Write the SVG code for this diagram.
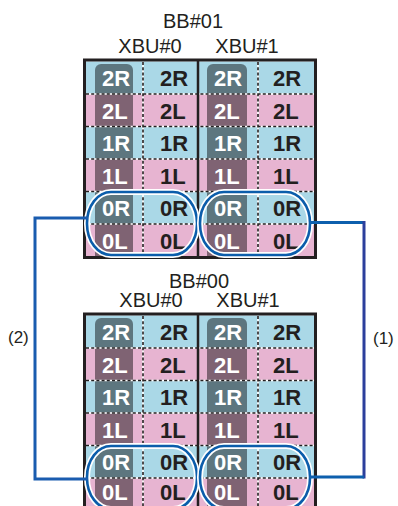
<svg xmlns="http://www.w3.org/2000/svg" width="398" height="506" viewBox="0 0 398 506">
<style>
.b{fill:#aad8e7}.p{fill:#e7b4d1}
.dk{fill:#000;fill-opacity:.45}
.hd{stroke:#231f20;stroke-width:1.6;stroke-dasharray:3 2.2;fill:none}
.hw{stroke:#fff;stroke-width:1.6;fill:none}
.box{fill:none;stroke:#231f20;stroke-width:3}
.mid{stroke:#231f20;stroke-width:2.5}
.t{font-family:"Liberation Sans",Arial,sans-serif;font-size:20px;fill:#231f20;text-anchor:middle}
.w{font-family:"Liberation Sans",Arial,sans-serif;font-size:22px;font-weight:bold;fill:#fff}
.k{font-family:"Liberation Sans",Arial,sans-serif;font-size:22px;font-weight:bold;fill:#231f20}
.ow{fill:none;stroke:#fff;stroke-width:6}
.ob{fill:none;stroke:#0b5dab;stroke-width:2.6}
.c{fill:none;stroke:#0d5fad;stroke-width:3}
.cl{fill:none;stroke:#1a5caf;stroke-width:3}
.cv{fill:none;stroke:#2c3f9c;stroke-width:3}
.lb{font-family:"Liberation Sans",Arial,sans-serif;font-size:17px;fill:#231f20}
</style>

<g id="bb01">
  <text class="t" x="193" y="28">BB#01</text>
  <g id="bb01-xbu0">
    <text class="t" x="150" y="53">XBU#0</text>
    <rect class="b" x="84" y="61.5" width="114" height="32.5"/>
    <rect class="p" x="84" y="94" width="114" height="32.5"/>
    <rect class="b" x="84" y="126.5" width="114" height="32.5"/>
    <rect class="p" x="84" y="159" width="114" height="32.5"/>
    <rect class="b" x="84" y="191.5" width="114" height="32.5"/>
    <rect class="p" x="84" y="224" width="114" height="33"/>
    <path class="dk" d="M95 257V70a6 6 0 0 1 6-6H127a6 6 0 0 1 6 6V257Z"/>
  </g>
  <g id="bb01-xbu1">
    <text class="t" x="247" y="53">XBU#1</text>
    <rect class="b" x="198" y="61.5" width="118" height="32.5"/>
    <rect class="p" x="198" y="94" width="118" height="32.5"/>
    <rect class="b" x="198" y="126.5" width="118" height="32.5"/>
    <rect class="p" x="198" y="159" width="118" height="32.5"/>
    <rect class="b" x="198" y="191.5" width="118" height="32.5"/>
    <rect class="p" x="198" y="224" width="118" height="33"/>
    <path class="dk" d="M207 257V70a6 6 0 0 1 6-6H241a6 6 0 0 1 6 6V257Z"/>
  </g>
  <g id="bb01-lines">
    <path class="hw" d="M86 94H314M86 126.5H314M86 159H314M86 191.5H314M86 224H314M143 62V256M258 62V256"/>
    <path class="hd" d="M86 94H314M86 126.5H314M86 159H314M86 191.5H314M86 224H314M143 62V256M258 62V256"/>
  </g>
  <g id="bb01-text">
    <text class="w" x="102" y="86.25">2R</text><text class="k" x="160" y="86.25">2R</text>
    <text class="w" x="214" y="86.25">2R</text><text class="k" x="273" y="86.25">2R</text>
    <text class="w" x="102" y="118.75">2L</text><text class="k" x="160" y="118.75">2L</text>
    <text class="w" x="214" y="118.75">2L</text><text class="k" x="273" y="118.75">2L</text>
    <text class="w" x="102" y="151.25">1R</text><text class="k" x="160" y="151.25">1R</text>
    <text class="w" x="214" y="151.25">1R</text><text class="k" x="273" y="151.25">1R</text>
    <text class="w" x="102" y="183.75">1L</text><text class="k" x="160" y="183.75">1L</text>
    <text class="w" x="214" y="183.75">1L</text><text class="k" x="273" y="183.75">1L</text>
    <text class="w" x="102" y="216.25">0R</text><text class="k" x="160" y="216.25">0R</text>
    <text class="w" x="214" y="216.25">0R</text><text class="k" x="273" y="216.25">0R</text>
    <text class="w" x="102" y="248.75">0L</text><text class="k" x="160" y="248.75">0L</text>
    <text class="w" x="214" y="248.75">0L</text><text class="k" x="273" y="248.75">0L</text>
  </g>
  <rect class="box" x="84.5" y="60" width="231" height="197.5"/>
  <line class="mid" x1="198" y1="60" x2="198" y2="257.5"/>
  <g id="bb01-ring0"><rect class="ow" x="87" y="192" width="110" height="63" rx="24" ry="31"/><rect class="ob" x="87" y="192" width="110" height="63" rx="24" ry="31"/></g>
  <g id="bb01-ring1"><rect class="ow" x="200" y="192" width="110" height="63" rx="24" ry="31"/><rect class="ob" x="200" y="192" width="110" height="63" rx="24" ry="31"/></g>
</g>

<g id="bb00">
  <text class="t" x="199" y="288">BB#00</text>
  <g id="bb00-xbu0">
    <text class="t" x="151" y="307">XBU#0</text>
    <rect class="b" x="84" y="315.5" width="114" height="32.5"/>
    <rect class="p" x="84" y="348" width="114" height="32.5"/>
    <rect class="b" x="84" y="380.5" width="114" height="32.5"/>
    <rect class="p" x="84" y="413" width="114" height="32.5"/>
    <rect class="b" x="84" y="445.5" width="114" height="32.5"/>
    <rect class="p" x="84" y="478" width="114" height="33"/>
    <path class="dk" d="M95 511V324a6 6 0 0 1 6-6H127a6 6 0 0 1 6 6V511Z"/>
  </g>
  <g id="bb00-xbu1">
    <text class="t" x="248" y="307">XBU#1</text>
    <rect class="b" x="198" y="315.5" width="118" height="32.5"/>
    <rect class="p" x="198" y="348" width="118" height="32.5"/>
    <rect class="b" x="198" y="380.5" width="118" height="32.5"/>
    <rect class="p" x="198" y="413" width="118" height="32.5"/>
    <rect class="b" x="198" y="445.5" width="118" height="32.5"/>
    <rect class="p" x="198" y="478" width="118" height="33"/>
    <path class="dk" d="M207 511V324a6 6 0 0 1 6-6H241a6 6 0 0 1 6 6V511Z"/>
  </g>
  <g id="bb00-lines">
    <path class="hw" d="M86 348H314M86 380.5H314M86 413H314M86 445.5H314M86 478H314M143 316V510M258 316V510"/>
    <path class="hd" d="M86 348H314M86 380.5H314M86 413H314M86 445.5H314M86 478H314M143 316V510M258 316V510"/>
  </g>
  <g id="bb00-text">
    <text class="w" x="102" y="340.25">2R</text><text class="k" x="160" y="340.25">2R</text>
    <text class="w" x="214" y="340.25">2R</text><text class="k" x="273" y="340.25">2R</text>
    <text class="w" x="102" y="372.75">2L</text><text class="k" x="160" y="372.75">2L</text>
    <text class="w" x="214" y="372.75">2L</text><text class="k" x="273" y="372.75">2L</text>
    <text class="w" x="102" y="405.25">1R</text><text class="k" x="160" y="405.25">1R</text>
    <text class="w" x="214" y="405.25">1R</text><text class="k" x="273" y="405.25">1R</text>
    <text class="w" x="102" y="437.75">1L</text><text class="k" x="160" y="437.75">1L</text>
    <text class="w" x="214" y="437.75">1L</text><text class="k" x="273" y="437.75">1L</text>
    <text class="w" x="102" y="470.25">0R</text><text class="k" x="160" y="470.25">0R</text>
    <text class="w" x="214" y="470.25">0R</text><text class="k" x="273" y="470.25">0R</text>
    <text class="w" x="102" y="500">0L</text><text class="k" x="160" y="500">0L</text>
    <text class="w" x="214" y="500">0L</text><text class="k" x="273" y="500">0L</text>
  </g>
  <rect class="box" x="84.5" y="314" width="231" height="197.5"/>
  <line class="mid" x1="198" y1="314" x2="198" y2="512"/>
  <g id="bb00-ring0"><rect class="ow" x="87" y="446" width="110" height="63" rx="24" ry="31"/><rect class="ob" x="87" y="446" width="110" height="63" rx="24" ry="31"/></g>
  <g id="bb00-ring1"><rect class="ow" x="200" y="446" width="110" height="63" rx="24" ry="31"/><rect class="ob" x="200" y="446" width="110" height="63" rx="24" ry="31"/></g>
</g>

<g id="connectors">
  <path class="cl" d="M88 218H35V479H88"/>
  <path class="c" d="M309 222.5H364"/>
  <path class="cv" d="M364 221V478.5"/>
  <path class="c" d="M309 477H364"/>
  <text class="lb" x="8" y="343">(2)</text>
  <text class="lb" x="373" y="344">(1)</text>
</g>
</svg>
